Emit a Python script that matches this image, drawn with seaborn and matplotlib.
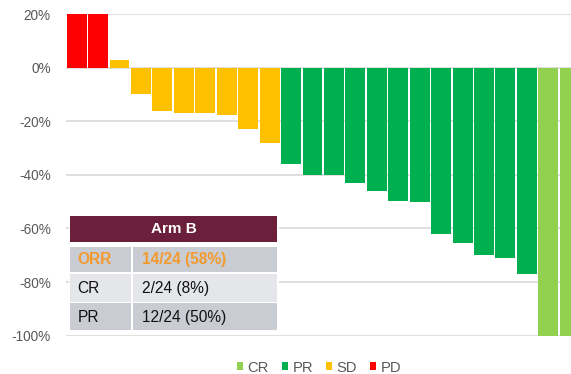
import matplotlib
matplotlib.use("Agg")
import matplotlib.pyplot as plt
import seaborn as sns
import pandas as pd
from matplotlib.patches import Rectangle

# Best percentage change from baseline, one bar per patient (sorted)
patients = list(range(1, 25))
change_pct = [20, 20, 3, -10, -16, -17, -17, -17.5, -23, -28,
              -36, -40, -40, -43, -46, -49.7, -50.3, -62, -65.5, -70, -71, -77,
              -100, -100]
response = ["PD"] * 2 + ["SD"] * 8 + ["PR"] * 12 + ["CR"] * 2
response_order = ["CR", "PR", "SD", "PD"]
response_colors = ["#92D050", "#00B050", "#FFC000", "#FF0000"]
y_ticks = [20, 0, -20, -40, -60, -80, -100]
y_tick_labels = ["20%", "0%", "-20%", "-40%", "-60%", "-80%", "-100%"]

# Summary table
table_title = "Arm B"
table_labels = ["ORR", "CR", "PR"]
table_values = ["14/24 (58%)", "2/24 (8%)", "12/24 (50%)"]

sns.set_theme(style="white")
plt.rcParams["font.family"] = ["Liberation Sans", "DejaVu Sans"]

W, H = 571, 374
fig = plt.figure(figsize=(W / 100, H / 100), dpi=100)
fig.patch.set_facecolor("white")

ax_left, ax_right, ax_top, ax_bottom = 65.9, 580.5, 14.0, 335.7
ax = fig.add_axes([ax_left / W, (H - ax_bottom) / H,
                   (ax_right - ax_left) / W, (ax_bottom - ax_top) / H])

df = pd.DataFrame({"patient": patients, "change": change_pct, "response": response})
sns.barplot(data=df, x="patient", y="change", hue="response",
            order=patients, hue_order=response_order, palette=response_colors,
            dodge=False, width=0.93, linewidth=0, saturation=1, ax=ax)

ax.set_xlim(-0.5, len(patients) - 0.5)
ax.set_ylim(-100, 20)
ax.set_yticks(y_ticks)
ax.set_yticklabels(y_tick_labels)
ax.set_xticks([])
ax.set_xlabel("")
ax.set_ylabel("")
ax.yaxis.grid(True, color="#D9D9D9", linewidth=1.2)
ax.set_axisbelow(True)
for s in ax.spines.values():
    s.set_visible(False)
ax.tick_params(axis="y", length=0, pad=10.9, labelsize=9.8, labelcolor="#595959")

handles, labels = ax.get_legend_handles_labels()
ax.get_legend().remove()
fig.legend(handles, labels, loc="center", bbox_to_anchor=(319 / W, (H - 367.5) / H),
           ncol=4, frameon=False, fontsize=10.6, labelcolor="#595959",
           handlelength=0.45, handleheight=0.5, handletextpad=0.3,
           columnspacing=0.85, borderpad=0, borderaxespad=0)


def rect(x0, y0, x1, y1, color):
    fig.patches.append(Rectangle((x0 / W, (H - y1) / H), (x1 - x0) / W, (y1 - y0) / H,
                                 transform=fig.transFigure, facecolor=color,
                                 edgecolor="none", zorder=3))


def text(x, y, s, **kw):
    fig.text(x / W, (H - y) / H, s, va="center", zorder=4, **kw)


# White backing so gridlines stop at the table
rect(69, 214, 278.5, 331.5, "white")
rect(70, 215.5, 277.3, 241.7, "#6B1F3B")
text(173.7, 229, table_title, ha="center", color="white", fontsize=11, fontweight="bold")

row_bounds = [(246.7, 271.7), (273.6, 301.6), (303.4, 330.0)]
row_colors = ["#C9CDD3", "#E4E6EA", "#C9CDD3"]
for i, (lab, val) in enumerate(zip(table_labels, table_values)):
    y0, y1 = row_bounds[i]
    rect(70, y0, 131, y1, row_colors[i])
    rect(133, y0, 277.3, y1, row_colors[i])
    yc = (y0 + y1) / 2 + 0.5
    if lab == "ORR":
        kw = dict(color="#F39A2E", fontweight="bold")
    else:
        kw = dict(color="#111111")
    text(77.5, yc, lab, ha="left", fontsize=11.2, **kw)
    text(141.5, yc, val, ha="left", fontsize=11.2, **kw)

fig.savefig("out.png", dpi=100, facecolor="white")
